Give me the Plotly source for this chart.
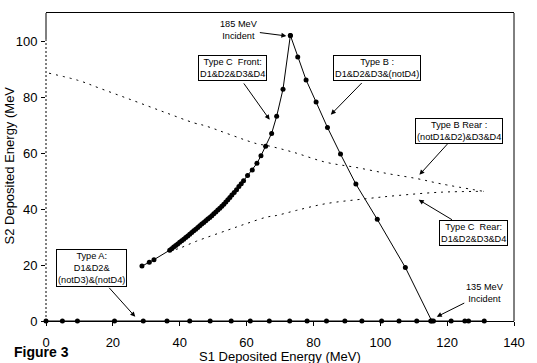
import plotly.graph_objects as go

# ---- data ----
type_c_front_x = [28.7, 30.9, 32.3, 37.0, 37.6, 38.2, 38.8, 39.4, 40.0, 40.6, 41.2, 41.8, 42.4, 43.0,
                  43.6, 44.2, 44.8, 45.4, 46.0, 46.6, 47.2, 47.8, 48.4, 49.0, 49.6, 50.2, 50.8,
                  51.4, 52.0, 52.6, 53.2, 53.8, 54.4, 55.0, 55.6, 56.3, 57.0, 57.7, 58.4, 59.1,
                  60.3, 61.7, 63.1, 64.3, 65.7, 67.5, 69.0, 70.9, 73.1]
type_c_front_y = [19.6, 21.0, 21.9, 25.3, 25.8, 26.4, 27.0, 27.5, 28.1, 28.7, 29.2, 29.8, 30.4, 31.0,
                  31.6, 32.2, 32.8, 33.4, 34.0, 34.6, 35.2, 35.8, 36.4, 37.0, 37.6, 38.3, 38.9,
                  39.6, 40.3, 41.0, 41.7, 42.5, 43.3, 44.1, 45.0, 45.9, 46.9, 48.0, 49.0, 50.1,
                  52.0, 53.9, 56.3, 59.0, 62.4, 67.0, 73.1, 82.8, 102.0]

type_b_x = [73.1, 75.3, 77.8, 80.8, 84.2, 88.1, 92.7, 99.1, 107.5, 115.4]
type_b_y = [102.0, 94.3, 86.1, 78.2, 69.1, 59.6, 48.9, 36.3, 19.1, 0.0]

type_b_rear_x = [0.9, 10.0, 15.9, 25.7, 35.6, 44.4, 47.4, 63.1, 66.0, 73.9, 83.7, 92.5, 102.4, 111.2, 118.1, 130.9]
type_b_rear_y = [88.5, 85.8, 83.2, 78.9, 74.5, 70.7, 69.8, 63.3, 62.7, 60.3, 56.7, 54.9, 52.6, 50.8, 49.0, 46.3]

type_c_rear_x = [36.8, 39.5, 45.0, 54.2, 60.0, 66.0, 69.0, 74.9, 83.7, 96.0, 105.0, 118.1, 130.9]
type_c_rear_y = [25.0, 25.8, 28.5, 32.4, 34.8, 37.1, 37.7, 39.5, 41.9, 43.7, 44.8, 46.0, 46.3]

type_a_x = [0.0, 4.9, 9.4, 20.5, 29.1, 36.2, 43.0, 49.1, 55.4, 61.1, 66.8, 72.9, 78.1, 83.9,
            89.4, 94.5, 100.4, 105.6, 110.9, 115.1, 115.9, 121.2, 125.3, 126.4, 131.1]
type_a_y = [0.0] * len(type_a_x)

x_ticks = [0, 20, 40, 60, 80, 100, 120, 140]
y_ticks = [0, 20, 40, 60, 80, 100]

FONT = "Liberation Sans, Arial, sans-serif"

fig = go.Figure()

dot_style = dict(color="black", width=1, dash="2px,5px")
fig.add_trace(go.Scatter(x=type_b_rear_x, y=type_b_rear_y, mode="lines", line=dot_style,
                         line_shape="spline", cliponaxis=False))
fig.add_trace(go.Scatter(x=type_c_rear_x, y=type_c_rear_y, mode="lines", line=dot_style,
                         line_shape="spline", cliponaxis=False))

mk = dict(color="black", size=5)
fig.add_trace(go.Scatter(x=type_a_x, y=type_a_y, mode="lines+markers",
                         line=dict(color="black", width=1), marker=mk, cliponaxis=False))
fig.add_trace(go.Scatter(x=type_c_front_x, y=type_c_front_y, mode="lines+markers",
                         line=dict(color="black", width=1), marker=mk, cliponaxis=False))
fig.add_trace(go.Scatter(x=type_b_x, y=type_b_y, mode="lines+markers",
                         line=dict(color="black", width=1), marker=mk, cliponaxis=False))

ann_font = dict(family=FONT, size=9.2, color="black")
box = dict(bordercolor="black", borderwidth=1, bgcolor="white", borderpad=1)
arrow = dict(showarrow=True, arrowhead=2, arrowsize=1, arrowwidth=1, arrowcolor="black",
             xref="x", yref="y", font=ann_font)

anns = [
    dict(x=71.9, y=101.8, ax=-47, ay=-6, text="185 MeV<br>Incident", **arrow),
    dict(x=66.9, y=71.9, ax=-37, ay=-52, text="Type C  Front:<br>D1&D2&D3&D4", startstandoff=4, **arrow, **box),
    dict(x=85.2, y=73.7, ax=46, ay=-47, text="Type B :<br>D1&D2&D3&(notD4)", startstandoff=4, **arrow, **box),
    dict(x=111.7, y=52.2, ax=40, ay=-44, text="Type B Rear :<br>(notD1&D2)&D3&D4", startstandoff=1, **arrow, **box),
    dict(x=111.5, y=43.3, ax=55, ay=33, text="Type C  Rear:<br>D1&D2&D3&D4", startstandoff=1, **arrow, **box),
    dict(x=26.7, y=1.5, ax=-44, ay=-49, text="Type A:<br>D1&D2&<br>(notD3)&(notD4)", startstandoff=2, **arrow, **box),
    dict(x=116.9, y=1.5, ax=48, ay=-24, text="135 MeV<br>Incident", **arrow),
    dict(x=0.5, y=-0.115, xref="paper", yref="paper", showarrow=False, xanchor="center", yanchor="middle",
         text="S1 Deposited Energy (MeV)", font=dict(family=FONT, size=13, color="black")),
    dict(x=-0.079, y=0.505, xref="paper", yref="paper", showarrow=False, xanchor="center", yanchor="middle",
         textangle=-90, text="S2 Deposited Energy (MeV", font=dict(family=FONT, size=13, color="black")),
    dict(x=-0.0716, y=-0.100, xref="paper", yref="paper", showarrow=False, xanchor="left", yanchor="middle",
         text="<b>Figure 3</b>", font=dict(family=FONT, size=14, color="black")),
]

shapes = [
    dict(type="line", xref="paper", yref="paper", x0=1, x1=1, y0=0, y1=1, line=dict(color="black", width=1)),
    dict(type="line", xref="paper", yref="y", x0=0, x1=0, y0=0, y1=100.5, line=dict(color="black", width=1, dash="2px,2px")),
    dict(type="line", xref="paper", yref="y", x0=0, x1=0, y0=100.5, y1=110, line=dict(color="black", width=1)),
]

fig.update_layout(
    width=537, height=363,
    margin=dict(l=46, r=16, t=12, b=42),
    paper_bgcolor="white", plot_bgcolor="white",
    showlegend=False,
    font=dict(family=FONT, size=13, color="black"),
    annotations=anns, shapes=shapes,
    xaxis=dict(range=[0, 140], tickvals=x_ticks, ticks="outside", ticklen=4, tickcolor="black",
               showline=True, linecolor="black", linewidth=1, mirror=True, showgrid=False,
               zeroline=False, ticklabelstandoff=5, tickfont=dict(family=FONT, size=13)),
    yaxis=dict(range=[0, 110], tickvals=y_ticks, ticks="outside", ticklen=4, tickcolor="black",
               showline=False, showgrid=False, zeroline=False, ticklabelstandoff=1,
               tickfont=dict(family=FONT, size=13)),
)

fig.write_html("out.html", config={"displayModeBar": False},
               post_script="document.body.style.margin='0px';document.body.style.overflow='hidden';")
